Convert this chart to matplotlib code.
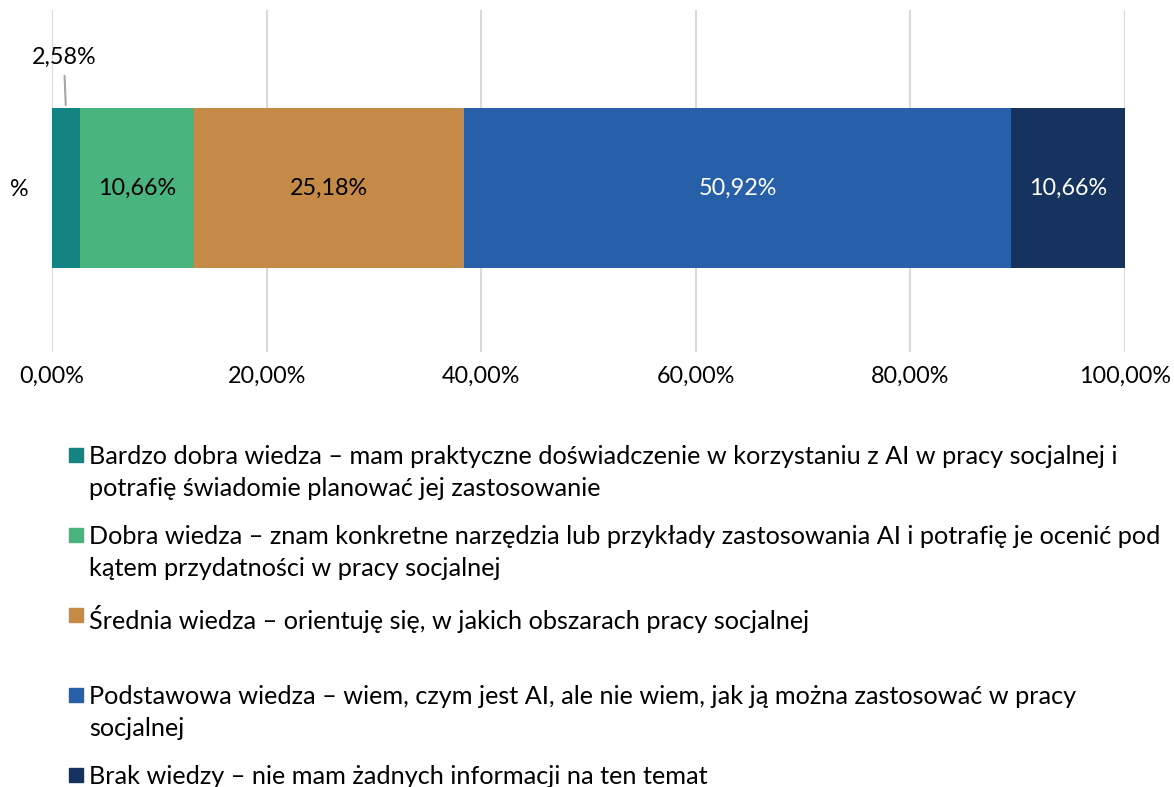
import matplotlib
matplotlib.use('Agg')
import matplotlib.pyplot as plt
from matplotlib.patches import Rectangle
from matplotlib.ticker import FuncFormatter

plt.rcParams['font.family'] = ['Lato', 'DejaVu Sans']

category = '%'
values = [2.58, 10.66, 25.18, 50.92, 10.66]
colors = ['#138482', '#4ab47e', '#c48a46', '#2760a8', '#16325e']
label_colors = ['black', 'black', 'black', 'white', 'white']
legend_labels = [
    'Bardzo dobra wiedza – mam praktyczne doświadczenie w korzystaniu z AI w pracy socjalnej i\n'
    'potrafię świadomie planować jej zastosowanie',
    'Dobra wiedza – znam konkretne narzędzia lub przykłady zastosowania AI i potrafię je ocenić pod\n'
    'kątem przydatności w pracy socjalnej',
    'Średnia wiedza – orientuję się, w jakich obszarach pracy socjalnej',
    'Podstawowa wiedza – wiem, czym jest AI, ale nie wiem, jak ją można zastosować w pracy\n'
    'socjalnej',
    'Brak wiedzy – nie mam żadnych informacji na ten temat',
]
xticks = [0, 20, 40, 60, 80, 100]

fs = 16.8
fs_leg = 18.2
W, H = 1174, 787
fig = plt.figure(figsize=(W / 100, H / 100), dpi=100)
ax = fig.add_axes([52 / W, 1 - 352 / H, (1125 - 52) / W, (352 - 10) / H])

left = 0
for i, v in enumerate(values):
    ax.barh(0, v, left=left, height=1.6, color=colors[i], zorder=3)
    txt = '{:.2f}%'.format(v).replace('.', ',')
    if v < 5:
        ax.annotate(txt, xy=(left + v / 2, 0.8), xytext=(-2, 51),
                    textcoords='offset pixels', ha='center', va='center',
                    fontsize=fs, color='black',
                    arrowprops=dict(arrowstyle='-', color='#a6a6a6', lw=1.5,
                                    shrinkA=4, shrinkB=2))
    else:
        ax.text(left + v / 2, 0, txt, ha='center', va='center',
                fontsize=fs, color=label_colors[i], zorder=4)
    left += v

ax.set_xlim(0, 100)
ax.set_ylim(-1.64, 1.78)
ax.set_xticks(xticks)
ax.xaxis.set_major_formatter(FuncFormatter(lambda x, p: '{:.2f}%'.format(x).replace('.', ',')))
ax.set_yticks([0])
ax.set_yticklabels([category])
ax.tick_params(axis='both', length=0, labelsize=fs, pad=10)
ax.tick_params(axis='y', pad=17)
ax.grid(axis='x', color='#d9d9d9', lw=1.5, zorder=0)
for s in ax.spines.values():
    s.set_visible(False)

# legend drawn by hand, one slot per entry
for i, lab in enumerate(legend_labels):
    y = 455 + 80 * i
    fig.patches.append(Rectangle((69 / W, 1 - (y + 7) / H), 14 / W, 14 / H,
                                 transform=fig.transFigure, color=colors[i]))
    fig.text(89 / W, 1 - (y - 10) / H, lab, fontsize=fs_leg, va='top', ha='left',
             linespacing=1.5)

fig.savefig('out.png', dpi=100)
